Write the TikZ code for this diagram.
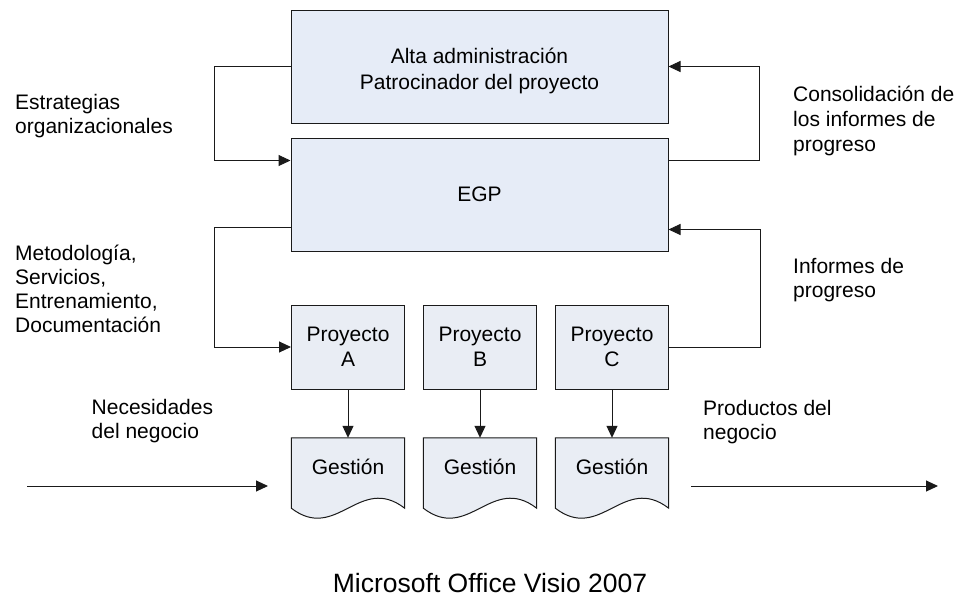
\documentclass[tikz,border=0pt]{standalone}
\usepackage{fontspec}
\setmainfont{Liberation Sans}
\usetikzlibrary{arrows.meta,calc,backgrounds}
\definecolor{bigfill}{HTML}{E6ECF7}
\definecolor{smallfill}{HTML}{E9EDF4}
\definecolor{linec}{HTML}{1A1A1A}
\begin{document}
\begin{tikzpicture}[x=1pt,y=-1pt,
  every node/.style={font=\fontsize{21}{25}\selectfont, inner sep=0pt, text=black},
  bigbox/.style={draw=linec, line width=1pt, fill=bigfill, minimum width=377pt, minimum height=113pt},
  projbox/.style={draw=linec, line width=1pt, fill=smallfill, minimum width=113pt, minimum height=84pt, align=center},
  docbox/.style={minimum width=113pt, minimum height=58pt},
  docshape/.style={draw=linec, line width=1pt, fill=smallfill},
  arr/.style={draw=linec, line width=1pt, -{Triangle[length=12pt,width=11pt]}},
  lbl/.style={align=left, anchor=base west, font=\fontsize{21}{24}\selectfont},
]
\useasboundingbox (0,0) rectangle (961,598);

% main boxes
\node[bigbox] (top) at (479.5,66.5) {};
\node[align=center, font=\fontsize{21}{25.5}\selectfont] (toptext) at (479.5,71) {Alta administración\\Patrocinador del proyecto};
\node[bigbox] (egp) at (479.5,194.5) {EGP};

% project boxes
\node[projbox] (pa) at (348,347) {Proyecto\\A};
\node[projbox] (pb) at (480,347) {Proyecto\\B};
\node[projbox] (pc) at (612,347) {Proyecto\\C};

% document shapes
\node[docbox] (ga) at (348,467) {Gestión};
\node[docbox] (gb) at (480,467) {Gestión};
\node[docbox] (gc) at (612,467) {Gestión};
\begin{scope}[on background layer]
\foreach \g in {ga,gb,gc}{
  \draw[docshape] (\g.north west) -- (\g.north east) -- ($(\g.south east)+(0,12)$)
    .. controls ($(\g.south east)+(-45.2,-22.6)$) and ($(\g.south west)+(45.2,46.6)$) ..
    ($(\g.south west)+(0,12)$) -- cycle;
}
\end{scope}

% vertical arrows
\draw[arr] (pa.south) -- (ga.north);
\draw[arr] (pb.south) -- (gb.north);
\draw[arr] (pc.south) -- (gc.north);

% loops
\draw[arr] (top.west) -- ++(-76,0) |- ($(egp.north west)+(0,23)$);
\draw[arr] ($(egp.north east)+(0,23)$) -- ++(91,0) |- (top.east);
\draw[arr] ($(egp.south west)+(0,-24)$) -- ++(-76,0) |- (pa.west);
\draw[arr] (pc.east) -- ++(91,0) |- ($(egp.south east)+(0,-22)$);

% input / output arrows
\coordinate (inL) at (27,486);
\coordinate (inR) at (268,486);
\coordinate (outL) at (691,486);
\coordinate (outR) at (938,486);
\draw[arr] (inL) -- (inR);
\draw[arr] (outL) -- (outR);

% labels (anchor = baseline of last line)
\node[lbl] (estr) at (15,133) {Estrategias\\organizacionales};
\node[lbl] (metod) at (15,332.7) {Metodología,\\Servicios,\\Entrenamiento,\\Documentación};
\node[lbl, font=\fontsize{21}{25}\selectfont] (consol) at (793,151.7) {Consolidación de\\los informes de\\progreso};
\node[lbl] (inform) at (793,297) {Informes de\\progreso};
\node[lbl] (neces) at (91.5,438) {Necesidades\\del negocio};
\node[lbl] (produc) at (703,439) {Productos del\\negocio};

\node[anchor=base, font=\fontsize{26.5}{30}\selectfont] (visio) at (490,592) {Microsoft Office Visio 2007};
\end{tikzpicture}
\end{document}
